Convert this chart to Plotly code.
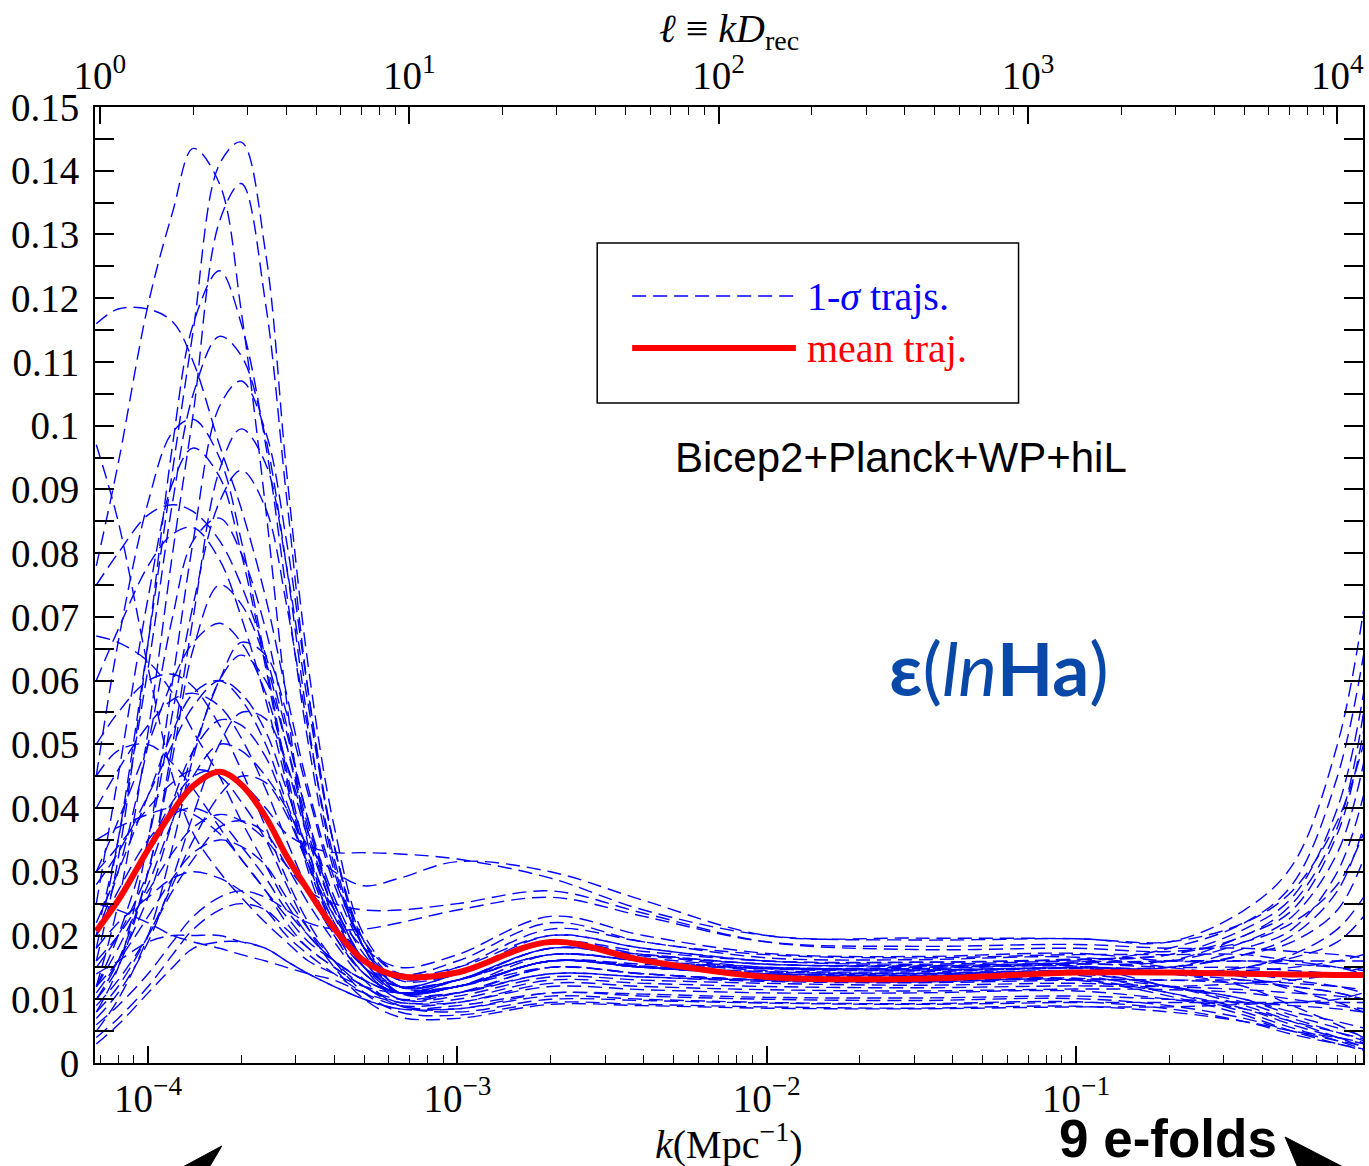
import plotly.graph_objects as go

# ---------------- data ----------------
k_grid = [6.8e-5, 8e-5, 1e-4, 1.2e-4, 1.4e-4, 1.7e-4, 2e-4, 2.4e-4, 2.8e-4, 3.3e-4, 4e-4, 5e-4,
          6.5e-4, 1e-3, 2e-3, 4e-3, 1e-2, 3e-2, 0.1, 0.2, 0.35, 0.5, 0.7, 0.85]

mean_traj = [0.0207, 0.0255, 0.0335, 0.0395, 0.0435, 0.0457, 0.0437, 0.0386, 0.0325, 0.0270, 0.0211, 0.0160,
             0.0136, 0.0142, 0.0190, 0.0161, 0.0135, 0.0132, 0.0142, 0.0142, 0.0140, 0.0139, 0.0138, 0.0138]

traj01 = [0.018, 0.035, 0.066, 0.093, 0.115, 0.141, 0.1445, 0.127, 0.093, 0.062, 0.037, 0.020, 0.014, 0.015, 0.020, 0.018, 0.016, 0.0158, 0.0162, 0.017, 0.021, 0.026, 0.040, 0.058]
traj02 = [0.078, 0.094, 0.119, 0.1335, 0.1435, 0.138, 0.118, 0.087, 0.057, 0.034, 0.021, 0.015, 0.012, 0.013, 0.017, 0.016, 0.0145, 0.0143, 0.0148, 0.014, 0.012, 0.009, 0.006, 0.004]
traj03 = [0.012, 0.025, 0.052, 0.080, 0.102, 0.132, 0.138, 0.119, 0.089, 0.058, 0.034, 0.019, 0.013, 0.014, 0.019, 0.017, 0.015, 0.0150, 0.0155, 0.016, 0.020, 0.024, 0.036, 0.052]
traj04 = [0.116, 0.1183, 0.1183, 0.1163, 0.110, 0.097, 0.087, 0.073, 0.058, 0.043, 0.029, 0.019, 0.014, 0.016, 0.022, 0.019, 0.017, 0.0165, 0.0170, 0.017, 0.017, 0.016, 0.015, 0.014]
traj05 = [0.016, 0.032, 0.066, 0.097, 0.116, 0.1243, 0.116, 0.097, 0.074, 0.050, 0.030, 0.018, 0.012, 0.012, 0.016, 0.015, 0.014, 0.0137, 0.0140, 0.012, 0.009, 0.0065, 0.004, 0.0025]
traj06 = [0.020, 0.035, 0.062, 0.088, 0.105, 0.114, 0.111, 0.098, 0.078, 0.053, 0.031, 0.018, 0.012, 0.013, 0.018, 0.017, 0.0155, 0.0152, 0.0158, 0.018, 0.022, 0.028, 0.045, 0.064]
traj07 = [0.008, 0.015, 0.035, 0.060, 0.082, 0.103, 0.107, 0.099, 0.082, 0.058, 0.034, 0.018, 0.011, 0.011, 0.015, 0.014, 0.013, 0.0130, 0.0133, 0.012, 0.010, 0.008, 0.0065, 0.0055]
traj08 = [0.045, 0.066, 0.088, 0.099, 0.101, 0.095, 0.082, 0.063, 0.046, 0.032, 0.022, 0.015, 0.012, 0.014, 0.020, 0.018, 0.016, 0.0155, 0.0160, 0.016, 0.019, 0.023, 0.033, 0.047]
traj09 = [0.010, 0.016, 0.030, 0.050, 0.070, 0.093, 0.0995, 0.094, 0.078, 0.056, 0.034, 0.019, 0.012, 0.012, 0.016, 0.015, 0.0138, 0.0135, 0.0138, 0.011, 0.008, 0.0055, 0.0035, 0.0022]
traj10 = [0.025, 0.045, 0.073, 0.091, 0.0965, 0.092, 0.080, 0.062, 0.045, 0.030, 0.020, 0.014, 0.011, 0.012, 0.016, 0.0155, 0.0148, 0.0146, 0.0150, 0.015, 0.018, 0.021, 0.030, 0.042]
traj11 = [0.012, 0.020, 0.035, 0.055, 0.072, 0.088, 0.093, 0.087, 0.072, 0.052, 0.032, 0.018, 0.012, 0.013, 0.018, 0.0165, 0.015, 0.0148, 0.0152, 0.014, 0.013, 0.012, 0.011, 0.010]
traj12 = [0.097, 0.085, 0.062, 0.045, 0.036, 0.030, 0.026, 0.022, 0.019, 0.016, 0.014, 0.012, 0.011, 0.012, 0.015, 0.014, 0.013, 0.0128, 0.0132, 0.013, 0.013, 0.0125, 0.012, 0.0115]
traj13 = [0.075, 0.080, 0.086, 0.0876, 0.0865, 0.082, 0.075, 0.064, 0.052, 0.038, 0.026, 0.017, 0.012, 0.013, 0.017, 0.016, 0.0148, 0.0146, 0.0150, 0.015, 0.017, 0.020, 0.027, 0.037]
traj14 = [0.020, 0.030, 0.050, 0.070, 0.082, 0.0855, 0.080, 0.068, 0.053, 0.038, 0.025, 0.016, 0.011, 0.012, 0.016, 0.015, 0.014, 0.0138, 0.0142, 0.012, 0.0095, 0.007, 0.0048, 0.0035]
traj15 = [0.060, 0.068, 0.078, 0.083, 0.084, 0.079, 0.070, 0.057, 0.044, 0.031, 0.021, 0.014, 0.011, 0.013, 0.018, 0.017, 0.0155, 0.0153, 0.0157, 0.016, 0.016, 0.0155, 0.015, 0.0145]
traj16 = [0.010, 0.015, 0.030, 0.048, 0.065, 0.075, 0.072, 0.063, 0.050, 0.036, 0.024, 0.015, 0.010, 0.011, 0.015, 0.014, 0.013, 0.0128, 0.0131, 0.011, 0.0085, 0.006, 0.004, 0.003]
traj17 = [0.030, 0.038, 0.050, 0.060, 0.066, 0.069, 0.066, 0.058, 0.047, 0.035, 0.024, 0.016, 0.012, 0.014, 0.019, 0.0175, 0.016, 0.0158, 0.0163, 0.017, 0.020, 0.025, 0.037, 0.055]
traj18 = [0.005, 0.010, 0.020, 0.034, 0.048, 0.060, 0.064, 0.060, 0.050, 0.037, 0.025, 0.016, 0.011, 0.012, 0.016, 0.015, 0.014, 0.0140, 0.0143, 0.014, 0.014, 0.013, 0.012, 0.011]
traj19 = [0.067, 0.066, 0.063, 0.058, 0.052, 0.045, 0.038, 0.031, 0.025, 0.020, 0.016, 0.013, 0.011, 0.012, 0.016, 0.0152, 0.0143, 0.0141, 0.0145, 0.014, 0.015, 0.017, 0.021, 0.026]
traj20 = [0.040, 0.046, 0.053, 0.057, 0.058, 0.056, 0.051, 0.043, 0.035, 0.027, 0.020, 0.014, 0.011, 0.013, 0.017, 0.016, 0.015, 0.0148, 0.0152, 0.012, 0.010, 0.0075, 0.0055, 0.0042]
traj21 = [0.015, 0.020, 0.030, 0.041, 0.049, 0.0538, 0.053, 0.048, 0.040, 0.031, 0.022, 0.015, 0.011, 0.012, 0.017, 0.016, 0.0148, 0.0145, 0.0149, 0.015, 0.017, 0.019, 0.024, 0.032]
traj22 = [0.045, 0.049, 0.050, 0.047, 0.043, 0.037, 0.032, 0.027, 0.023, 0.019, 0.016, 0.013, 0.011, 0.013, 0.018, 0.0168, 0.0155, 0.0152, 0.0156, 0.015, 0.015, 0.0145, 0.014, 0.0135]
traj23 = [0.008, 0.012, 0.020, 0.028, 0.035, 0.042, 0.045, 0.044, 0.039, 0.031, 0.023, 0.016, 0.011, 0.011, 0.014, 0.0135, 0.013, 0.0127, 0.0130, 0.0105, 0.0075, 0.005, 0.003, 0.002]
traj24 = [0.020, 0.027, 0.035, 0.039, 0.040, 0.038, 0.034, 0.029, 0.024, 0.020, 0.016, 0.013, 0.011, 0.012, 0.016, 0.015, 0.014, 0.0137, 0.0141, 0.014, 0.0145, 0.015, 0.016, 0.017]
traj25 = [0.012, 0.016, 0.023, 0.029, 0.033, 0.035, 0.034, 0.031, 0.026, 0.021, 0.016, 0.012, 0.010, 0.011, 0.014, 0.0135, 0.0128, 0.0126, 0.0130, 0.013, 0.0125, 0.012, 0.011, 0.010]
traj26 = [0.018, 0.022, 0.026, 0.029, 0.030, 0.029, 0.027, 0.024, 0.020, 0.017, 0.014, 0.011, 0.009, 0.0095, 0.012, 0.0115, 0.011, 0.0110, 0.0113, 0.010, 0.0085, 0.0065, 0.0048, 0.0038]
traj27 = [0.014, 0.016, 0.019, 0.020, 0.020, 0.020, 0.019, 0.018, 0.016, 0.014, 0.012, 0.010, 0.0085, 0.009, 0.011, 0.0108, 0.0103, 0.0102, 0.0105, 0.010, 0.0095, 0.009, 0.0085, 0.008]
traj28 = [0.003, 0.006, 0.011, 0.015, 0.018, 0.019, 0.019, 0.018, 0.016, 0.014, 0.012, 0.010, 0.0085, 0.0085, 0.0105, 0.0100, 0.0095, 0.0093, 0.0096, 0.0085, 0.0065, 0.0045, 0.003, 0.0022]
traj29 = [0.020, 0.026, 0.034, 0.041, 0.045, 0.046, 0.044, 0.040, 0.036, 0.034, 0.033, 0.033, 0.0328, 0.032, 0.029, 0.024, 0.020, 0.0193, 0.0195, 0.019, 0.024, 0.031, 0.050, 0.071]
traj30 = [0.012, 0.018, 0.028, 0.038, 0.045, 0.050, 0.049, 0.045, 0.040, 0.034, 0.030, 0.0278, 0.029, 0.0316, 0.030, 0.0255, 0.020, 0.0196, 0.0195, 0.019, 0.022, 0.027, 0.038, 0.050]
traj31 = [0.006, 0.009, 0.014, 0.019, 0.023, 0.026, 0.027, 0.026, 0.024, 0.022, 0.021, 0.021, 0.022, 0.024, 0.026, 0.023, 0.019, 0.0183, 0.0186, 0.018, 0.018, 0.0175, 0.017, 0.0165]
traj32 = [0.025, 0.024, 0.022, 0.020, 0.019, 0.018, 0.017, 0.016, 0.015, 0.014, 0.013, 0.011, 0.0095, 0.0095, 0.0125, 0.012, 0.0115, 0.0113, 0.0116, 0.0115, 0.011, 0.010, 0.009, 0.0085]
traj33 = [0.004, 0.007, 0.012, 0.017, 0.021, 0.024, 0.025, 0.024, 0.021, 0.018, 0.015, 0.012, 0.009, 0.0085, 0.011, 0.0105, 0.010, 0.0098, 0.0101, 0.009, 0.007, 0.005, 0.0035, 0.0027]
traj34 = [0.035, 0.037, 0.039, 0.040, 0.039, 0.036, 0.032, 0.027, 0.022, 0.018, 0.015, 0.012, 0.0095, 0.010, 0.013, 0.0125, 0.012, 0.0118, 0.0121, 0.012, 0.0125, 0.013, 0.014, 0.015]
traj35 = [0.009, 0.013, 0.020, 0.027, 0.032, 0.037, 0.038, 0.036, 0.031, 0.025, 0.019, 0.013, 0.009, 0.0080, 0.0100, 0.0098, 0.0094, 0.0092, 0.0095, 0.0095, 0.0095, 0.0095, 0.0095, 0.0095]
traj36 = [0.050, 0.055, 0.060, 0.061, 0.059, 0.053, 0.046, 0.037, 0.029, 0.022, 0.016, 0.011, 0.008, 0.0075, 0.0095, 0.0092, 0.0088, 0.0086, 0.0089, 0.008, 0.0065, 0.005, 0.004, 0.0032]
traj37 = [0.030, 0.034, 0.040, 0.044, 0.046, 0.045, 0.041, 0.035, 0.028, 0.021, 0.015, 0.010, 0.0072, 0.0070, 0.0092, 0.0090, 0.0086, 0.0085, 0.0088, 0.0088, 0.0092, 0.0095, 0.010, 0.011]
traj38 = [0.016, 0.020, 0.027, 0.033, 0.037, 0.039, 0.038, 0.035, 0.031, 0.027, 0.025, 0.024, 0.024, 0.025, 0.027, 0.0235, 0.019, 0.0178, 0.0180, 0.0175, 0.019, 0.022, 0.028, 0.036]
traj39 = [0.022, 0.030, 0.042, 0.052, 0.058, 0.060, 0.057, 0.050, 0.041, 0.032, 0.024, 0.018, 0.015, 0.017, 0.023, 0.020, 0.0172, 0.0167, 0.0172, 0.016, 0.016, 0.016, 0.016, 0.016]
traj40 = [0.011, 0.016, 0.026, 0.038, 0.049, 0.060, 0.066, 0.064, 0.055, 0.042, 0.028, 0.018, 0.013, 0.015, 0.021, 0.019, 0.0165, 0.0162, 0.0166, 0.015, 0.0135, 0.0115, 0.0095, 0.0080]
traj41 = [0.028, 0.033, 0.042, 0.050, 0.056, 0.060, 0.058, 0.052, 0.043, 0.033, 0.023, 0.015, 0.010, 0.0105, 0.0135, 0.013, 0.0125, 0.0122, 0.0125, 0.012, 0.0115, 0.011, 0.0105, 0.010]
traj42 = [0.007, 0.011, 0.019, 0.029, 0.039, 0.050, 0.055, 0.054, 0.047, 0.036, 0.025, 0.016, 0.011, 0.012, 0.016, 0.0152, 0.0143, 0.0140, 0.0145, 0.014, 0.015, 0.0165, 0.019, 0.023]

sigma_trajs = [traj01, traj02, traj03, traj04, traj05, traj06, traj07, traj08, traj09, traj10,
               traj11, traj12, traj13, traj14, traj15, traj16, traj17, traj18, traj19, traj20,
               traj21, traj22, traj23, traj24, traj25, traj26, traj27, traj28, traj29, traj30,
               traj31, traj32, traj33, traj34, traj35, traj36, traj37, traj38, traj39, traj40,
               traj41, traj42]

k_ticks = [1e-4, 1e-3, 1e-2, 1e-1]
k_tick_text = ["10<sup>−4</sup>", "10<sup>−3</sup>", "10<sup>−2</sup>", "10<sup>−1</sup>"]
ell_ticks = [1, 10, 100, 1000, 10000]
ell_tick_text = ["10<sup>0</sup>", "10<sup>1</sup>", "10<sup>2</sup>", "10<sup>3</sup>", "10<sup>4</sup>"]
eps_ticks = [0, 0.01, 0.02, 0.03, 0.04, 0.05, 0.06, 0.07, 0.08, 0.09, 0.1, 0.11, 0.12, 0.13, 0.14, 0.15]
eps_tick_text = ["0", "0.01", "0.02", "0.03", "0.04", "0.05", "0.06", "0.07", "0.08", "0.09", "0.1",
                 "0.11", "0.12", "0.13", "0.14", "0.15"]

# ---------------- figure geometry ----------------
W, H = 1369, 1166
L, R, T, B = 95, 1365, 107, 1063


def px(x):
    return (x - L) / (R - L)


def py(y):
    return (B - y) / (B - T)


SERIF = "Liberation Serif, Times New Roman, serif"
SANS = "Liberation Sans, Arial, sans-serif"
BLUE = "rgb(0,0,255)"
RED = "rgb(255,0,0)"
DASH = "14px,7px"
TICKSIZE = 39

fig = go.Figure()

for tr in sigma_trajs:
    fig.add_trace(go.Scatter(x=k_grid, y=tr, mode="lines",
                             line=dict(color=BLUE, width=1.4, dash=DASH, shape="spline", smoothing=1.0),
                             hoverinfo="skip", showlegend=False))

fig.add_trace(go.Scatter(x=k_grid, y=mean_traj, mode="lines",
                         line=dict(color=RED, width=6, shape="spline", smoothing=1.0),
                         hoverinfo="skip", showlegend=False))

# helper trace so the top (ell) axis is drawn
fig.add_trace(go.Scatter(x=ell_ticks, y=[-1] * len(ell_ticks), xaxis="x2", mode="lines",
                         line=dict(width=0), opacity=0, hoverinfo="skip", showlegend=False))

minor_k = [m * 10.0 ** e for e in range(-5, 1) for m in range(2, 10)]
minor_ell = [m * 10.0 ** e for e in range(-1, 5) for m in range(2, 10)]

fig.update_layout(
    width=W, height=H,
    margin=dict(l=L, r=W - R, t=T, b=H - B, pad=0),
    paper_bgcolor="white", plot_bgcolor="white",
    showlegend=False,
    font=dict(family=SERIF, color="black", size=TICKSIZE),
    xaxis=dict(type="log", range=[-4.1717, -0.0723], showgrid=False, zeroline=False,
               showline=True, linecolor="black", linewidth=2, mirror=False,
               tickmode="array", tickvals=k_ticks, ticktext=k_tick_text,
               ticks="inside", ticklen=17, tickwidth=1.5, tickcolor="black",
               ticklabelstandoff=0,
               tickfont=dict(family=SERIF, size=TICKSIZE, color="black"),
               minor=dict(tickmode="array", tickvals=minor_k, ticks="inside", ticklen=8,
                          tickwidth=1.2, tickcolor="black", showgrid=False)),
    xaxis2=dict(type="log", range=[-0.016, 4.083], overlaying="x", side="top", anchor="y",
                showgrid=False, zeroline=False,
                showline=True, linecolor="black", linewidth=2,
                tickmode="array", tickvals=ell_ticks, ticktext=ell_tick_text,
                ticks="inside", ticklen=17, tickwidth=1.5, tickcolor="black",
                ticklabelstandoff=0,
                tickfont=dict(family=SERIF, size=TICKSIZE, color="black"),
                minor=dict(tickmode="array", tickvals=minor_ell, ticks="inside", ticklen=8,
                           tickwidth=1.2, tickcolor="black", showgrid=False)),
    yaxis=dict(range=[0, 0.15], showgrid=False, zeroline=False,
               showline=True, linecolor="black", linewidth=2, mirror="allticks",
               tickmode="array", tickvals=eps_ticks, ticktext=eps_tick_text,
               ticks="inside", ticklen=19, tickwidth=1.5, tickcolor="black",
               ticklabelstandoff=6,
               tickfont=dict(family=SERIF, size=TICKSIZE, color="black"),
               minor=dict(dtick=0.005, tick0=0, ticks="inside", ticklen=19, tickwidth=1.5,
                          tickcolor="black", showgrid=False)),
)

# axis titles
fig.add_annotation(x=0.5, y=py(31), xref="paper", yref="paper", showarrow=False,
                   text="<i>ℓ</i> ≡ <i>kD</i><sub>rec</sub>", font=dict(family=SERIF, size=40),
                   xanchor="center", yanchor="middle")
fig.add_annotation(x=0.5, y=py(1141), xref="paper", yref="paper", showarrow=False,
                   text="<i>k</i>(Mpc<sup>−1</sup>)", font=dict(family=SERIF, size=40),
                   xanchor="center", yanchor="middle")

# hand-made legend box
fig.add_shape(type="rect", xref="paper", yref="paper", x0=px(598), x1=px(1020), y0=py(403), y1=py(243),
              line=dict(color="black", width=1.5), fillcolor="white", layer="above")
fig.add_shape(type="line", xref="paper", yref="paper", x0=px(633), x1=px(797), y0=py(296), y1=py(296),
              line=dict(color=BLUE, width=1.4, dash=DASH))
fig.add_shape(type="line", xref="paper", yref="paper", x0=px(633), x1=px(797), y0=py(348), y1=py(348),
              line=dict(color=RED, width=6))
fig.add_annotation(x=px(806), y=py(296), xref="paper", yref="paper", showarrow=False,
                   text="1-<i>σ</i> trajs.", font=dict(family=SERIF, size=40, color=BLUE),
                   xanchor="left", yanchor="middle")
fig.add_annotation(x=px(806), y=py(348), xref="paper", yref="paper", showarrow=False,
                   text="mean traj.", font=dict(family=SERIF, size=40, color=RED),
                   xanchor="left", yanchor="middle")

# labels inside the plot
fig.add_annotation(x=px(902), y=py(457), xref="paper", yref="paper", showarrow=False,
                   text="Bicep2+Planck+WP+hiL",
                   font=dict(family=SANS, size=42, color="black"),
                   xanchor="center", yanchor="middle")
fig.add_annotation(x=px(1000), y=py(668), xref="paper", yref="paper", showarrow=False,
                   text="<b>ε</b>(<i>ln</i><b>Ha</b>)",
                   font=dict(family="Lato, Open Sans, sans-serif", size=73, color="rgb(8,72,168)"),
                   xanchor="center", yanchor="middle")
fig.add_annotation(x=px(1170), y=py(1107), xref="paper", yref="paper", showarrow=False,
                   text="<b>9 e-folds</b>",
                   font=dict(family=SANS, size=53, color="black"),
                   xanchor="center", yanchor="top")

# arrow heads at the bottom


def path(points):
    s = "M " + " L ".join(f"{px(a):.5f},{py(b):.5f}" for a, b in points) + " Z"
    return s


fig.add_shape(type="path", xref="paper", yref="paper", path=path([(222, 1146), (181, 1168), (209, 1168)]),
              fillcolor="black", line=dict(color="black", width=1))
fig.add_shape(type="path", xref="paper", yref="paper", path=path([(1287, 1137), (1347, 1168), (1300, 1168)]),
              fillcolor="black", line=dict(color="black", width=1))

fig.write_html("out.html")
